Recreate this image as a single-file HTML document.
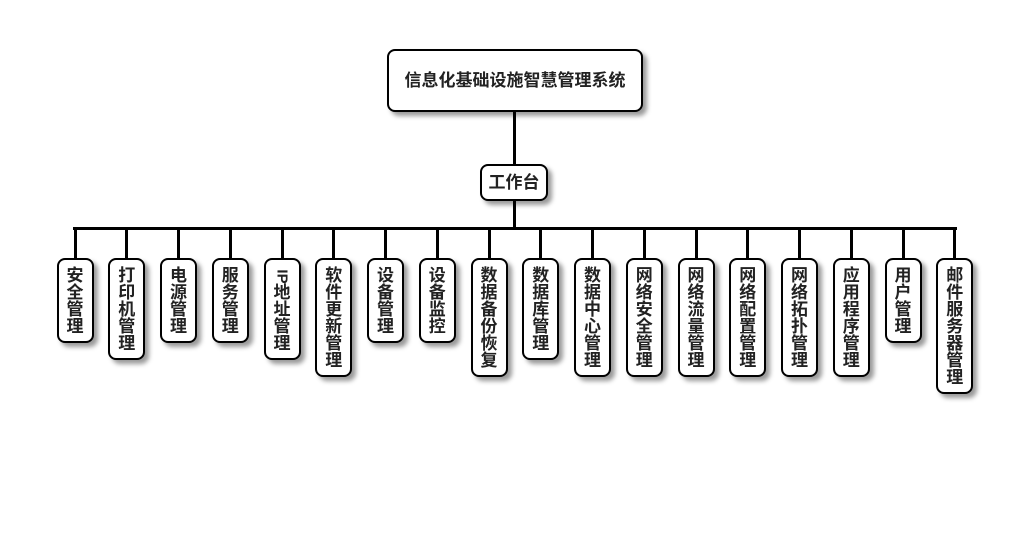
<!DOCTYPE html>
<html><head><meta charset="utf-8"><style>
body{margin:0;width:1030px;height:560px;background:#fff;position:relative;font-family:"Liberation Sans","Noto Sans CJK SC",sans-serif;font-weight:bold;color:#222}
.b{position:absolute;border:2px solid #000;border-radius:8px;background:#fff;box-shadow:4px 4px 5px rgba(0,0,0,.4);box-sizing:border-box;text-align:center}
.l{position:absolute;background:#000}
.c{width:37px;top:258px;font-size:17px;line-height:17px;padding-top:7px}
.c div{height:17px}
</style></head><body>
<div class="l" style="left:513px;top:112px;width:3px;height:53px"></div>
<div class="l" style="left:513px;top:200px;width:3px;height:30px"></div>
<div class="l" style="left:73px;top:227px;width:884px;height:3px"></div>
<div class="b" style="left:387px;top:49px;width:256px;height:63px;line-height:59px;font-size:17px">信息化基础设施智慧管理系统</div>
<div class="b" style="left:480px;top:164px;width:68px;height:37px;line-height:33px;font-size:17px">工作台</div>
<div id="k"></div>
<script>
var n=["安全管理","打印机管理","电源管理","服务管理","#地址管理","软件更新管理","设备管理","设备监控","数据备份恢复","数据库管理","数据中心管理","网络安全管理","网络流量管理","网络配置管理","网络拓扑管理","应用程序管理","用户管理","邮件服务器管理"];
var h="";
for(var i=0;i<n.length;i++){var cx=75+i*51.75;var ch=n[i].split("");
var inner=ch.map(function(c){return c=="#"?"<div><span style='display:inline-block;transform:rotate(90deg);font-size:15px'>IP</span></div>":"<div>"+c+"</div>"}).join("");
h+='<div class="l" style="left:'+(cx-1.5)+'px;top:228px;width:3px;height:31px"></div>';
h+='<div class="b c" style="left:'+(cx-18.5)+'px;height:'+(17*ch.length+17)+'px">'+inner+'</div>';}
document.getElementById("k").innerHTML=h;
</script>
</body></html>
